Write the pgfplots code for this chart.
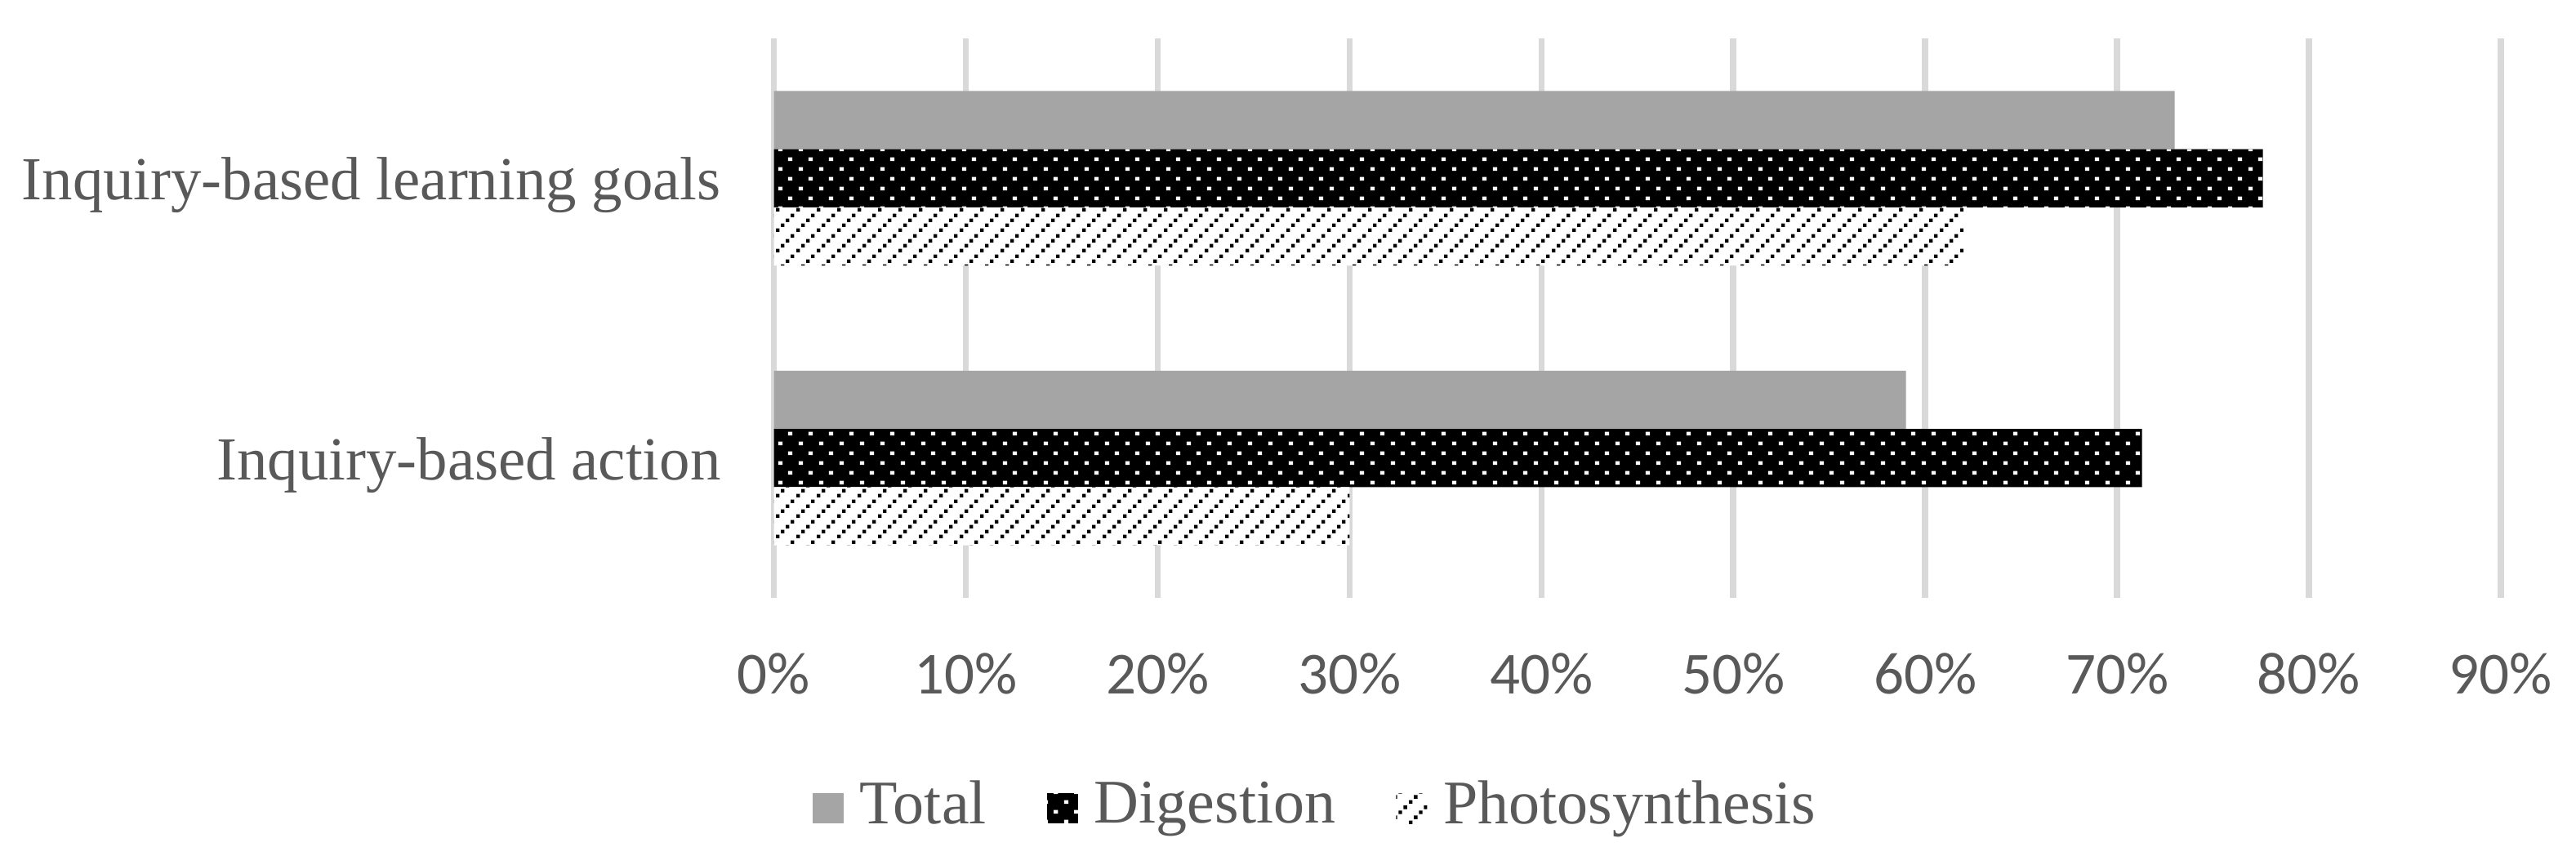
\documentclass[border=0pt]{standalone}
\usepackage{fontspec}
\setmainfont{Liberation Serif}
\newfontfamily\carlito{Carlito}
\usepackage{pgfplots}
\pgfplotsset{compat=1.18}
\usetikzlibrary{patterns}
\definecolor{totalgray}{HTML}{A5A5A5}
\definecolor{gridgray}{HTML}{D9D9D9}
\definecolor{txtgray}{HTML}{595959}
\pgfdeclarepatternformonly{whitedots}{\pgfqpoint{0pt}{0pt}}{\pgfqpoint{2.5pt}{2.44pt}}{\pgfqpoint{2.5pt}{2.44pt}}{%
  \pgfpathrectangle{\pgfqpoint{0.3pt}{0.3pt}}{\pgfqpoint{0.54pt}{0.46pt}}%
  \pgfpathrectangle{\pgfqpoint{1.55pt}{1.52pt}}{\pgfqpoint{0.54pt}{0.46pt}}%
  \pgfusepath{fill}}
\pgfdeclarepatternformonly{diagdash}{\pgfqpoint{0pt}{0pt}}{\pgfqpoint{2.5pt}{2.5pt}}{\pgfqpoint{2.5pt}{2.5pt}}{%
  \pgfpathrectangle{\pgfqpoint{0.0pt}{0.0pt}}{\pgfqpoint{0.45pt}{0.45pt}}%
  \pgfpathrectangle{\pgfqpoint{0.625pt}{0.625pt}}{\pgfqpoint{0.45pt}{0.45pt}}%
  \pgfpathrectangle{\pgfqpoint{1.25pt}{1.25pt}}{\pgfqpoint{0.45pt}{0.45pt}}%
  \pgfpathrectangle{\pgfqpoint{1.875pt}{1.875pt}}{\pgfqpoint{0.45pt}{0.45pt}}%
  \pgfusepath{fill}}
\begin{document}
\begin{tikzpicture}
\begin{axis}[
  at={(94.75pt,32.7pt)}, anchor=south west,
  scale only axis, width=211.45pt, height=68.5pt,
  xmin=0, xmax=90, ymin=-0.5, ymax=1.5,
  xbar, bar width=0.208,
  xtick={0,10,...,90},
  xticklabels={0\%,10\%,20\%,30\%,40\%,50\%,60\%,70\%,80\%,90\%},
  ytick={0,1},
  yticklabels={Inquiry-based action, Inquiry-based learning goals},
  xmajorgrids, major grid style={draw=gridgray, line width=0.75pt},
  axis line style={draw=none},
  major tick length=0pt,
  xticklabel style={font=\carlito\fontsize{7.3}{8}\selectfont\color{txtgray}, anchor=base, yshift=-11.8pt, inner sep=0pt},
  yticklabel style={font=\fontsize{7.48}{9}\selectfont\color{txtgray}, anchor=base east, xshift=-6.3pt, yshift=-2.68pt, inner sep=0pt},
  legend style={at={(0.3176,-0.3766)}, anchor=center, draw=none, fill=none,
    font=\fontsize{7.6}{9}\selectfont\color{txtgray}, inner sep=0pt,
    /tikz/every even column/.append style={column sep=5.4pt}},
  legend columns=-1,
  legend image code/.code={\path[#1, draw=none] (0pt,-1.85pt) rectangle (3.8pt,1.85pt);},
]
\addplot[fill=totalgray, draw=none, bar shift=0.208] coordinates {(59,0) (73,1)};
\addplot[fill=black, draw=none, bar shift=0, postaction={pattern=whitedots, pattern color=white}] coordinates {(71.3,0) (77.6,1)};
\addplot[fill=white, draw=none, bar shift=-0.208, postaction={pattern=diagdash, pattern color=black}] coordinates {(30,0) (62,1)};
\legend{Total, Digestion, Photosynthesis}
\end{axis}
\pgfresetboundingbox
\path[use as bounding box] (0,0) rectangle (315.4pt,105.9pt);
\end{tikzpicture}
\end{document}
